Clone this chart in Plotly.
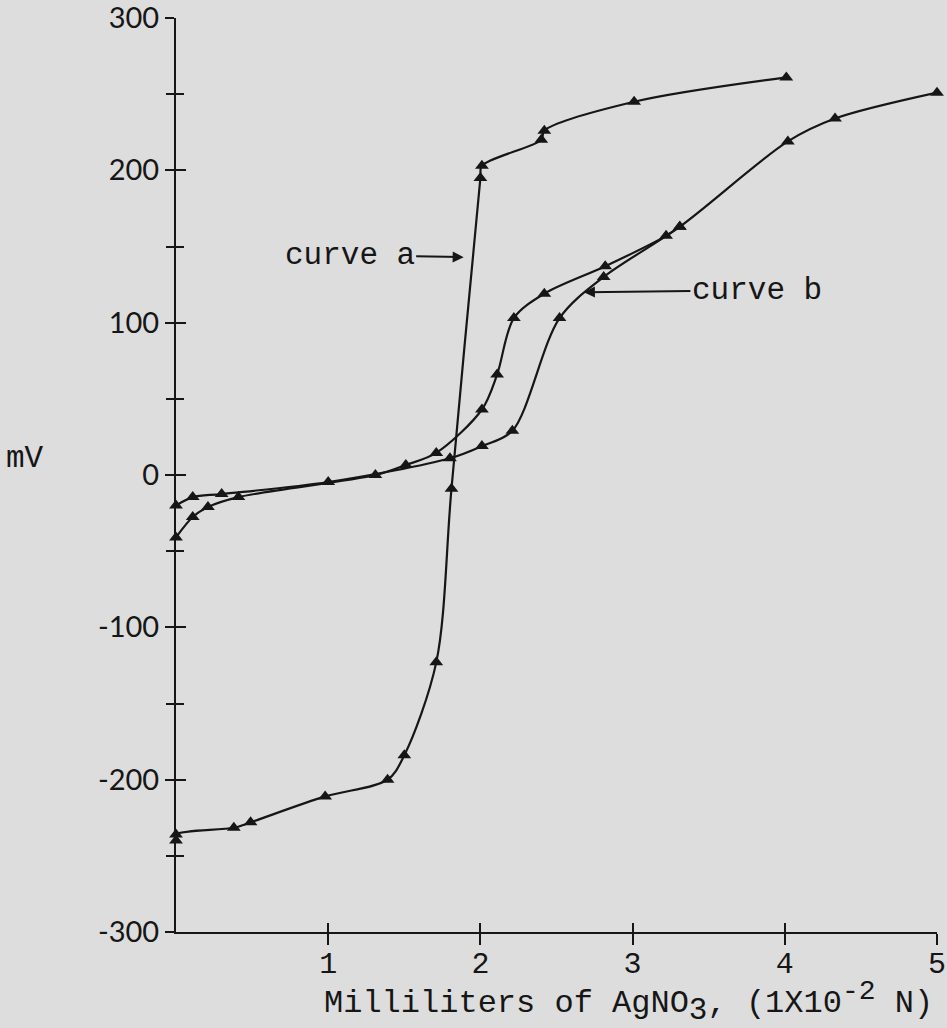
import plotly.graph_objects as go

# Titration of halide with AgNO3: electrode potential (mV) vs volume added (mL)
curve_a_ml = [0.0, 0.0, 0.38, 0.49, 0.98, 1.39, 1.50, 1.71, 1.81, 2.00, 2.01, 2.40, 2.42, 3.01, 4.01]
curve_a_mv = [-240, -236, -231.6, -228, -211, -200, -184, -123, -9, 195, 203, 220, 226, 245, 261]

curve_b1_ml = [0.0, 0.11, 0.30, 1.00, 1.80, 2.01, 2.21, 2.52, 2.81, 3.31, 4.02, 4.33, 5.00]
curve_b1_mv = [-20, -14.5, -12.5, -4.6, 11, 19, 29, 103, 130, 163, 219, 234, 251]

curve_b2_ml = [0.0, 0.11, 0.21, 0.41, 1.31, 1.51, 1.71, 2.01, 2.11, 2.22, 2.42, 2.82, 3.22, 3.31]
curve_b2_mv = [-41, -27.6, -21, -14.5, 0, 6.6, 14.5, 43, 66, 103, 119, 137, 157, 163]

x_ticks = [1, 2, 3, 4, 5]
x_tick_labels = ["1", "2", "3", "4", "5"]
y_ticks = [-300, -200, -100, 0, 100, 200, 300]
y_tick_labels = ["-300", "-200", "-100", "0", "100", "200", "300"]
y_minor_ticks = [-250, -150, -50, 50, 150, 250]

INK = "#161616"
BG = "#dddddd"
MONO = "Liberation Mono"
SANS = "Lato"

fig = go.Figure()

for xs, ys in [(curve_a_ml, curve_a_mv), (curve_b1_ml, curve_b1_mv), (curve_b2_ml, curve_b2_mv)]:
    fig.add_trace(go.Scatter(
        x=xs, y=ys, mode="lines+markers",
        line=dict(color=INK, width=2.2, shape="spline", smoothing=0.9),
        marker=dict(symbol="triangle-up", size=12, color=INK),
        showlegend=False, cliponaxis=False,
    ))

axis_common = dict(showgrid=False, zeroline=False, showline=True, automargin=False,
                   linecolor=INK, linewidth=2, tickcolor=INK, tickwidth=2)

Y_RANGE = [-300, 300]


def minor_y(side):
    return dict(tickmode="array", tickvals=y_minor_ticks, ticks=side, ticklen=8,
                tickcolor=INK, tickwidth=2, showgrid=False)


fig.update_layout(
    width=947, height=1028,
    margin=dict(l=176, r=10, t=18, b=96),
    paper_bgcolor=BG, plot_bgcolor=BG,
    xaxis=dict(range=[0, 5], tickmode="array", tickvals=x_ticks, ticktext=x_tick_labels,
               ticks="outside", ticklen=11, ticklabelstandoff=-8,
               tickfont=dict(family=MONO, size=30, color=INK),
               **axis_common),
    yaxis=dict(range=Y_RANGE, tickmode="array", tickvals=y_ticks, ticktext=y_tick_labels,
               ticks="outside", ticklen=9, ticklabeloverflow="allow",
               tickfont=dict(family=SANS, size=29, color=INK),
               minor=minor_y("outside"),
               **axis_common),
    # companion axes give ticks that cross the axis lines
    xaxis2=dict(range=[0, 5], overlaying="x", anchor="y", side="bottom",
                tickmode="array", tickvals=x_ticks, ticks="inside", ticklen=9,
                showticklabels=False, **axis_common),
    yaxis2=dict(range=Y_RANGE, overlaying="y", anchor="x", side="left",
                tickmode="array", tickvals=y_ticks, ticks="inside", ticklen=10,
                showticklabels=False, minor=minor_y("inside"), **axis_common),
)

# invisible trace so the companion axes are drawn
fig.add_trace(go.Scatter(x=[None], y=[None], xaxis="x2", yaxis="y2", showlegend=False))

# x-axis title, with near full-size subscript and superscript as typed
fig.add_annotation(x=1.0, y=0, xref="paper", yref="paper", xanchor="right", yanchor="middle",
                   yshift=-70, xshift=-2, showarrow=False,
                   text="Milliliters of AgNO<sub><span style='font-size:31px'>3</span></sub>, "
                        "(1X10<sup><span style='font-size:28px'>-2</span></sup> N)",
                   font=dict(family=MONO, size=32, color=INK))

fig.add_annotation(x=0, y=11, xref="paper", yref="y", text="mV", showarrow=False,
                   xanchor="right", yanchor="middle", xshift=-130,
                   font=dict(family=MONO, size=31, color=INK))

fig.add_annotation(x=1.89, y=143, text="curve a", showarrow=True,
                   ax=-114, ay=-2, arrowhead=2, arrowsize=1.1, arrowwidth=2,
                   arrowcolor=INK, font=dict(family=MONO, size=31, color=INK))
fig.add_annotation(x=2.68, y=120, text="curve b", showarrow=True,
                   ax=173, ay=-2, arrowhead=2, arrowsize=1.1, arrowwidth=2,
                   arrowcolor=INK, font=dict(family=MONO, size=31, color=INK))

fig.write_html("out.html")
